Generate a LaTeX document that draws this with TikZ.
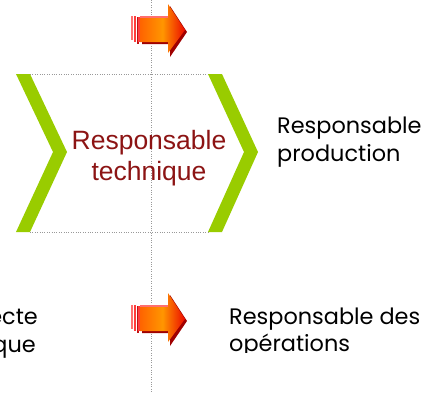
\documentclass[tikz,border=0pt]{standalone}
\usepackage{fontspec}
\setmainfont{Liberation Sans}
\newfontfamily\geofont{Poppins}
\definecolor{chevgreen}{RGB}{153,204,0}
\definecolor{techred}{RGB}{140,20,20}
\definecolor{arrshadow}{RGB}{160,0,0}
\definecolor{arrorange}{RGB}{255,150,0}
\definecolor{arrleft}{RGB}{255,100,0}
\definecolor{arrright}{RGB}{235,10,0}
\definecolor{stripeA}{RGB}{255,110,110}
\definecolor{stripeB}{RGB}{255,60,60}
\definecolor{stripeC}{RGB}{190,20,20}
\tikzset{
  guide/.style={draw=gray!80, line width=0.8pt, dash pattern=on 1pt off 1.4pt},
  chev/.style={fill=chevgreen, draw=none},
  roletext/.style={font=\geofont\fontsize{22.4}{28}\selectfont, text=black, inner sep=0pt},
  techtext/.style={font=\fontsize{26.5}{31}\selectfont, text=techred, inner sep=0pt},
  pics/fatarrow/.style={code={
    \fill[arrshadow] (11,-10) -- (39,-10) -- (39,-24) -- (56,2) -- (39,27) -- (39,14) -- (11,14) -- cycle;
    \shade[left color=arrleft, right color=arrright, middle color=arrorange]
      (9,-12) -- (37,-12) -- (37,-26) -- (54,0) -- (37,23) -- (37,12) -- (9,12) -- cycle;
    \draw[stripeA, line width=1.5pt] (9,-13.2) -- (37,-13.2);
    \fill[stripeA] (0,-14) rectangle (2,10);
    \fill[stripeB] (3,-14) rectangle (5,12);
    \fill[stripeC] (6,-13) rectangle (8,14);
    \fill[stripeB] (7,-13) rectangle (9,12);
  }}
}
\begin{document}
\begin{tikzpicture}[x=1pt, y=-1pt]
\useasboundingbox (0,0) rectangle (426,392);
% vertical guide
\coordinate (vtop) at (151,0);
\coordinate (vbot) at (151,392);
\draw[guide] (vtop) -- (vbot);
% horizontal guides
\coordinate (htl) at (30,74);
\coordinate (htr) at (208,74);
\coordinate (hbl) at (30,232);
\coordinate (hbr) at (208,232);
\draw[guide] (htl) -- (htr);
\draw[guide] (hbl) -- (hbr);
% chevrons
\fill[chev] (16,74) -- (30,74) -- (67,152) -- (30,232) -- (16,232) -- (53,152) -- cycle;
\fill[chev] (208,74) -- (222,74) -- (258,152) -- (222,232) -- (208,232) -- (244,152) -- cycle;
% arrows
\pic at (131,30) {fatarrow};
\pic at (131,319) {fatarrow};
% texts
\node[techtext, anchor=base] (techA) at (149,149) {Responsable};
\node[techtext, anchor=base] (techB) at (149,180) {technique};
\node[roletext, anchor=base west] (prodA) at (277,133) {Responsable};
\node[roletext, anchor=base west] (prodB) at (277,161) {production};
\node[roletext, anchor=base east] (archA) at (38,324) {Architecte};
\node[roletext, anchor=base east] (archB) at (36,352) {technique};
\node[roletext, anchor=base west] (opsA) at (229,324) {Responsable des};
\begin{scope}
\clip (200,330) rectangle (426,352);
\node[roletext, anchor=base west] (opsB) at (229,351) {opérations};
\end{scope}
\end{tikzpicture}
\end{document}
